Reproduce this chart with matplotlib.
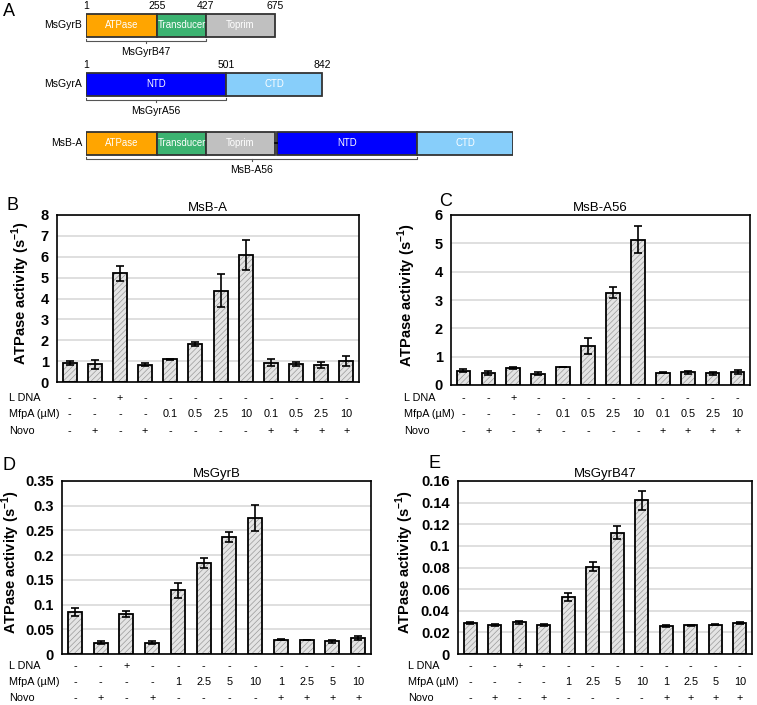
"""
Domain map of the M. smegmatis gyrase constructs and their ATPase activity.
"""
import numpy as np
import matplotlib
matplotlib.use("Agg")
import matplotlib.pyplot as plt
from matplotlib.patches import Rectangle
from matplotlib.transforms import blended_transform_factory
from matplotlib.ticker import FuncFormatter

plt.rcParams["font.family"] = ["Liberation Sans", "DejaVu Sans"]
plt.rcParams["mathtext.fontset"] = "custom"
plt.rcParams["mathtext.rm"] = "Liberation Sans"
plt.rcParams["mathtext.bf"] = "Liberation Sans:bold"
plt.rcParams["hatch.linewidth"] = 0.5

NARROW = ["Liberation Sans Narrow", "Liberation Sans", "DejaVu Sans"]

# ---- panel A: domain boundaries (residues) ----
gyrb_names = ["ATPase", "Transducer", "Toprim"]
gyrb_bounds = [1, 255, 427, 675]
gyrb_colors = ["#FFA500", "#3CB371", "#C0C0C0"]
gyra_names = ["NTD", "CTD"]
gyra_bounds = [1, 501, 842]
gyra_colors = ["#0000FF", "#87CEFA"]

# ---- panels B-E: conditions ----
ldna = ["-", "-", "+", "-", "-", "-", "-", "-", "-", "-", "-", "-"]
novo = ["-", "+", "-", "+", "-", "-", "-", "-", "+", "+", "+", "+"]
mfpa_low = ["-", "-", "-", "-", "0.1", "0.5", "2.5", "10", "0.1", "0.5", "2.5", "10"]
mfpa_high = ["-", "-", "-", "-", "1", "2.5", "5", "10", "1", "2.5", "5", "10"]

# ---- panels B-E: ATPase activity (s^-1) and error ----
msba_vals = [0.92, 0.84, 5.20, 0.83, 1.09, 1.82, 4.38, 6.10, 0.92, 0.85, 0.80, 1.01]
msba_err = [0.09, 0.21, 0.35, 0.06, 0.03, 0.10, 0.78, 0.72, 0.17, 0.10, 0.14, 0.23]
msba56_vals = [0.51, 0.43, 0.59, 0.40, 0.65, 1.37, 3.26, 5.13, 0.44, 0.45, 0.41, 0.46]
msba56_err = [0.05, 0.08, 0.04, 0.05, 0.0, 0.29, 0.19, 0.48, 0.01, 0.05, 0.04, 0.08]
msgyrb_vals = [0.085, 0.023, 0.081, 0.023, 0.129, 0.184, 0.237, 0.275, 0.029, 0.028, 0.026, 0.032]
msgyrb_err = [0.009, 0.003, 0.006, 0.003, 0.015, 0.011, 0.010, 0.026, 0.0005, 0.0005, 0.003, 0.004]
msgyrb47_vals = [0.0285, 0.0266, 0.0293, 0.0272, 0.0528, 0.0808, 0.1123, 0.1423,
                 0.0261, 0.0266, 0.0272, 0.0285]
msgyrb47_err = [0.001, 0.001, 0.0015, 0.001, 0.004, 0.004, 0.006, 0.0088,
                0.001, 0.0005, 0.0005, 0.001]

W, H = 757, 705
fig = plt.figure(figsize=(W / 100, H / 100), dpi=100)


def px_axes(l, t, r, b):
    """Axes placed by pixel box (left, top, right, bottom)."""
    return fig.add_axes([l / W, 1 - b / H, (r - l) / W, (b - t) / H])


def fy(ypx):
    return 1 - ypx / H


# ================= Panel A =================
LINKER = 7
axA = px_axes(86, 0, 513, 175)
axA.set_xlim(0, gyrb_bounds[-1] + LINKER + gyra_bounds[-1])
axA.set_ylim(2.542, -0.424)
axA.axis("off")

BOX_H = 0.39


def draw_protein(ax, row, offset, bounds, names, colors, numbers=False):
    for i, name in enumerate(names):
        x0 = offset + (bounds[i] if i > 0 else 0)
        x1 = offset + bounds[i + 1]
        ax.add_patch(Rectangle((x0, row - BOX_H / 2), x1 - x0, BOX_H,
                               facecolor=colors[i], edgecolor="#333333", lw=1.3))
        ax.text((x0 + x1) / 2, row, name, color="white", ha="center", va="center",
                fontsize=6.9, family=NARROW)
    if numbers:
        for j, b in enumerate(bounds):
            xb = offset + (b if j > 0 else 0)
            ax.text(xb, row - 0.33, str(b), ha="center", va="center",
                    fontsize=7.5, family=NARROW)


def bracket(ax, x0, x1, row, label):
    y = row + 0.27
    ax.plot([x0, x0, x1, x1], [y - 0.04, y, y, y - 0.04], color="#555555", lw=0.8)
    m = (x0 + x1) / 2
    ax.plot([m, m], [y, y + 0.04], color="#555555", lw=0.8)
    ax.text(m, row + 0.46, label, ha="center", va="center", fontsize=7.5, family=NARROW)


gyra_off = gyrb_bounds[-1] + LINKER
draw_protein(axA, 0, 0, gyrb_bounds, gyrb_names, gyrb_colors, numbers=True)
draw_protein(axA, 1, 0, gyra_bounds, gyra_names, gyra_colors, numbers=True)
axA.plot([gyrb_bounds[-1], gyra_off], [2, 2], color="black", lw=1.2)
draw_protein(axA, 2, 0, gyrb_bounds, gyrb_names, gyrb_colors)
draw_protein(axA, 2, gyra_off, gyra_bounds, gyra_names, gyra_colors)

bracket(axA, 0, gyrb_bounds[2], 0, "MsGyrB47")
bracket(axA, 0, gyra_bounds[1], 1, "MsGyrA56")
bracket(axA, 0, gyra_off + gyra_bounds[1], 2, "MsB-A56")

for row, name in enumerate(["MsGyrB", "MsGyrA", "MsB-A"]):
    axA.text(-14, row, name, ha="right", va="center", fontsize=7.5, family=NARROW)


# ================= Panels B-E =================
def bar_panel(rect, title, vals, errs, ymax, ystep, mfpa, label_x, ylab_x, rows_y):
    ax = px_axes(*rect)
    x = np.arange(len(vals))
    ax.bar(x, vals, width=0.55, color="#e4e4e4", edgecolor="#9a9a9a",
           hatch="//////", linewidth=0, zorder=2)
    ax.bar(x, vals, width=0.55, fill=False, edgecolor="black", linewidth=1.3, zorder=3)
    ax.errorbar(x, vals, yerr=errs, fmt="none", ecolor="black", elinewidth=1.2,
                capsize=3, capthick=1.2, zorder=4)
    ax.set_xlim(-0.5, len(vals) - 0.5)
    ax.set_ylim(0, ymax)
    ax.set_yticks(np.arange(0, ymax + ystep / 2, ystep))
    ax.yaxis.set_major_formatter(FuncFormatter(lambda v, p: f"{v:g}"))
    ax.set_xticks([])
    ax.tick_params(axis="y", length=0, pad=6, labelsize=10.5)
    plt.setp(ax.get_yticklabels(), fontweight="bold")
    ax.grid(axis="y", color="#d9d9d9", linewidth=1.2)
    ax.set_axisbelow(True)
    for s in ax.spines.values():
        s.set_linewidth(1.2)
    ax.set_title(title, fontsize=9.5, pad=3)

    l, t, r, b = rect
    fig.text(ylab_x / W, fy((t + b) / 2 - 5), r"ATPase activity (s$^{\mathbf{-1}}$)",
             rotation=90, ha="center", va="center", fontweight="bold", fontsize=10.5)

    trans = blended_transform_factory(ax.transData, fig.transFigure)
    for (name, values), ypx in zip([("L DNA", ldna), ("MfpA (\u00b5M)", mfpa), ("Novo", novo)],
                                   rows_y):
        fig.text(label_x / W, fy(ypx), name, ha="left", va="center", fontsize=7.8)
        for xi, v in enumerate(values):
            ax.text(xi, fy(ypx), v, transform=trans, ha="center", va="center", fontsize=7.8)
    return ax


bar_panel((57, 215, 359, 382), "MsB-A", msba_vals, msba_err, 8, 1, mfpa_low,
          9, 21, (398, 414, 431))
bar_panel((451, 215, 750, 385), "MsB-A56", msba56_vals, msba56_err, 6, 1, mfpa_low,
          404, 407, (398, 414, 431))
bar_panel((62, 481, 371, 654), "MsGyrB", msgyrb_vals, msgyrb_err, 0.35, 0.05, mfpa_high,
          9, 11, (666, 682, 698))
bar_panel((458, 481, 752, 654), "MsGyrB47", msgyrb47_vals, msgyrb47_err, 0.16, 0.02,
          mfpa_high, 408, 405, (666, 682, 698))

# panel letters
for letter, xp, yp in [("A", 3, 12), ("B", 6, 205), ("C", 439, 202),
                       ("D", 3, 465), ("E", 428, 464)]:
    fig.text(xp / W, fy(yp), letter, ha="left", va="center", fontsize=13)

fig.savefig("out.png", dpi=100)
